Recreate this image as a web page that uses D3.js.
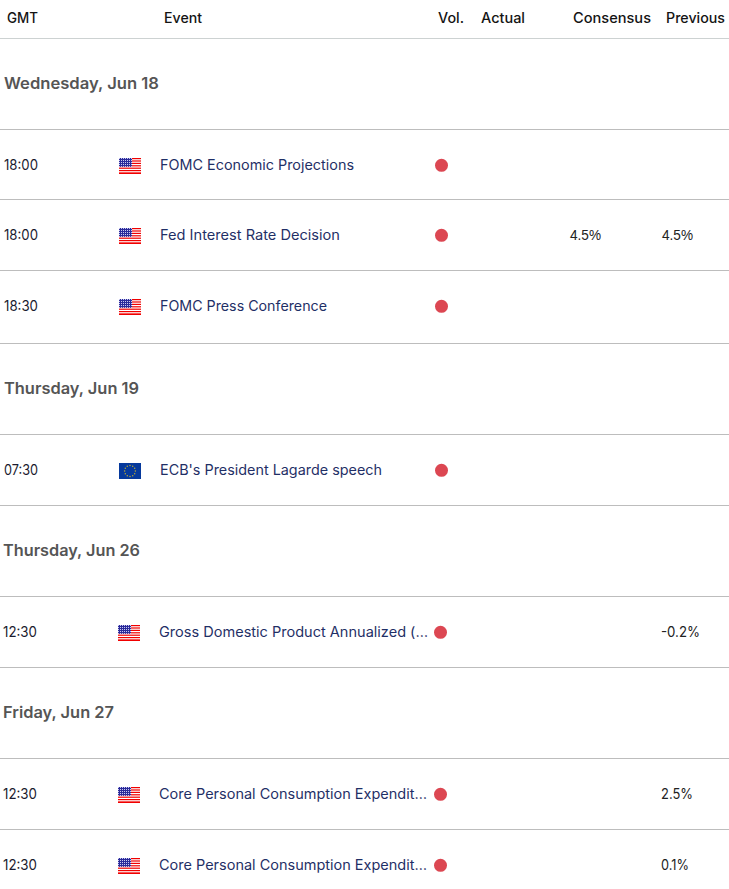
<!DOCTYPE html>
<html><head><meta charset="utf-8">
<script src="https://cdn.jsdelivr.net/npm/d3@7/dist/d3.min.js"></script>
<style>html,body{margin:0;padding:0;background:#fff;overflow:hidden}svg{display:block}</style>
</head><body>
<svg id="c" width="729" height="889"></svg>
<script>
// ---- data ----
const columnLabels = ["GMT", "Event", "Vol.", "Actual", "Consensus", "Previous"];
const dayLabels = ["Wednesday, Jun 18", "Thursday, Jun 19", "Thursday, Jun 26", "Friday, Jun 27"];
const eventDay = [0, 0, 0, 1, 2, 3, 3];
const eventTimes = ["18:00", "18:00", "18:30", "07:30", "12:30", "12:30", "12:30"];
const eventCountries = ["US", "US", "US", "EU", "US", "US", "US"];
const eventNames = [
  "FOMC Economic Projections",
  "Fed Interest Rate Decision",
  "FOMC Press Conference",
  "ECB's President Lagarde speech",
  "Gross Domestic Product Annualized (…",
  "Core Personal Consumption Expendit…",
  "Core Personal Consumption Expendit…"
];
const eventConsensus = ["", "4.5%", "", "", "", "", ""];
const eventPrevious = ["", "4.5%", "", "", "-0.2%", "2.5%", "0.1%"];

// ---- layout ----
const bandEdges = [38, 129, 199, 270, 343, 434, 505, 596, 667, 758, 829];
const headerX = d3.scaleOrdinal().domain(columnLabels).range([7, 164, 438, 481, 573, 666]);
const headerW = d3.scaleOrdinal().domain(columnLabels).range([31, 38, 26, 44, 78, 59]);
const bodyFont = "Inter, 'Open Sans', sans-serif", numFont = "'Liberation Sans', Arial, sans-serif";
const svg = d3.select("#c");

function fit(sel, wOf) {
  sel.each(function (d, i) {
    const w = wOf(d, i);
    if (w) d3.select(this).attr("textLength", w).attr("lengthAdjust", "spacingAndGlyphs");
  });
}

// build rows in table order
const rows = [];
dayLabels.forEach((label, di) => {
  rows.push({ kind: "day", label, di });
  eventNames.forEach((n, i) => {
    if (eventDay[i] === di) rows.push({ kind: "event", i, di, name: n, time: eventTimes[i], country: eventCountries[i], cons: eventConsensus[i], prev: eventPrevious[i] });
  });
});
const yEdge = d3.scaleOrdinal().domain(d3.range(rows.length)).range(bandEdges);
rows.forEach((r, k) => { r.top = yEdge(k); r.shift = r.di >= 2 ? -1 : 0; });

// header
svg.append("g").selectAll("text").data(columnLabels).join("text")
  .attr("x", d => headerX(d)).attr("y", 23)
  .attr("font-family", bodyFont).attr("font-size", 14).attr("font-weight", 500).attr("fill", "#141414")
  .text(d => d).call(fit, d => headerW(d));

// rules
svg.append("g").selectAll("line").data(bandEdges).join("line")
  .attr("x1", 0).attr("x2", 729).attr("y1", d => d + 0.5).attr("y2", d => d + 0.5)
  .attr("stroke", (d, i) => i === 0 ? "#cdd2d2" : "#bdbdbd").attr("stroke-width", 1);

// day labels
const dayRows = rows.filter(r => r.kind === "day");
const dayW = [155, 135, 137, 111];
svg.append("g").selectAll("text").data(dayRows).join("text")
  .attr("x", d => 4 + d.shift).attr("y", d => d.top + 51)
  .attr("font-family", bodyFont).attr("font-size", 16).attr("font-weight", 600).attr("fill", "#555555")
  .text(d => d.label).call(fit, d => dayW[d.di]);

// flag patterns
const defs = svg.append("defs");
defs.append("pattern").attr("id", "stars").attr("width", 2).attr("height", 2).attr("patternUnits", "userSpaceOnUse")
  .call(p => { p.append("rect").attr("width", 2).attr("height", 2).attr("fill", "#2a2a9a");
               p.append("rect").attr("width", 1).attr("height", 1).attr("fill", "#c8c8f0"); });

// event rows
const ev = svg.append("g").selectAll("g").data(rows.filter(r => r.kind === "event")).join("g")
  .attr("transform", d => `translate(${d.shift},${d.top + 36})`);

ev.append("text").attr("x", 4).attr("y", 5)
  .attr("font-family", bodyFont).attr("font-size", 14).attr("fill", "#1b1b2f")
  .text(d => d.time).call(fit, () => 34);

const nameW = [194, 180, 167, 222, 269, 268, 268];
ev.append("text").attr("x", 160).attr("y", 5)
  .attr("font-family", bodyFont).attr("font-size", 14).attr("fill", "#1f2f66")
  .text(d => d.name).call(fit, d => nameW[d.i]);

ev.append("circle").attr("cx", 441.5).attr("cy", 0.3).attr("r", 6.5).attr("fill", "#dc4752");

ev.append("text").attr("x", 570).attr("y", 5)
  .attr("font-family", numFont).attr("font-size", 15).attr("fill", "#222")
  .text(d => d.cons).call(fit, d => d.cons ? 31 : 0);
const prevW = { "-0.2%": 39, "2.5%": 32, "0.1%": 28, "4.5%": 31 };
ev.append("text").attr("x", 662).attr("y", 5)
  .attr("font-family", d => d.di >= 2 ? bodyFont : numFont).attr("font-size", d => d.di >= 2 ? 14 : 15).attr("fill", "#222")
  .text(d => d.prev).call(fit, d => prevW[d.prev]);

// flags
const flag = ev.append("g").attr("transform", "translate(119,-7)");
flag.filter(d => d.country === "US").each(function () {
  const f = d3.select(this);
  f.append("rect").attr("width", 22).attr("height", 16).attr("fill", "#fff");
  d3.range(0, 7).forEach(s => f.append("rect").attr("y", s * 2.4).attr("width", 22).attr("height", 1.2).attr("fill", "#f00000"));
  f.append("rect").attr("y", 14.9).attr("width", 22).attr("height", 1.1).attr("fill", "#f00000");
  f.append("rect").attr("width", 13).attr("height", 8.8).attr("fill", "url(#stars)");
});
flag.filter(d => d.country === "EU").each(function () {
  const f = d3.select(this);
  f.append("rect").attr("width", 22).attr("height", 16).attr("fill", "#06399c");
  d3.range(12).forEach(s => f.append("circle")
    .attr("cx", 11 + 5.4 * Math.cos(s * Math.PI / 6)).attr("cy", 8 + 5.4 * Math.sin(s * Math.PI / 6))
    .attr("r", 0.75).attr("fill", "#b9a838"));
});
</script>
</body></html>
